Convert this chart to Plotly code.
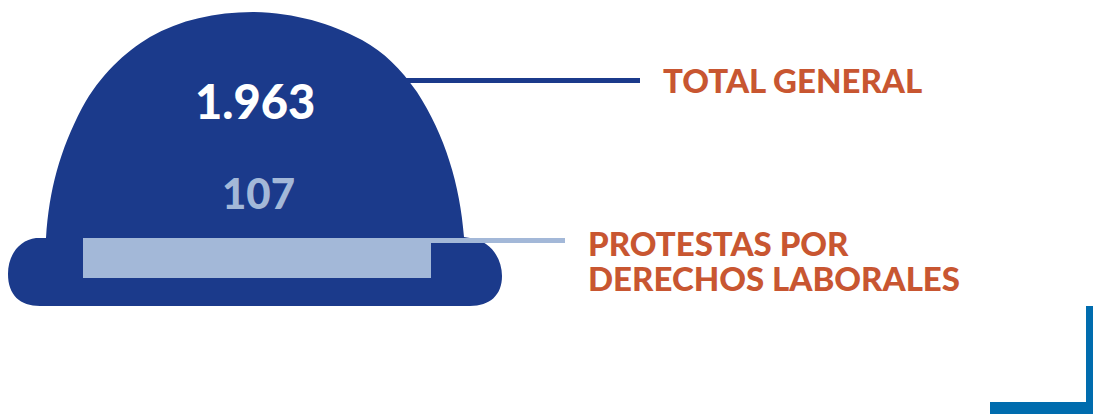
import plotly.graph_objects as go

# Data
total_value = 1963
subset_value = 107
total_text = "1.963"
subset_text = "107"
total_label = ["TOTAL GENERAL"]
subset_label = ["PROTESTAS POR", "DERECHOS LABORALES"]

BLUE = "#1B3A8B"
LIGHT = "#A3B8D8"
ORANGE = "#C85631"
CORNER = "#006CAE"
FONT = "Lato"
W, H = 1093, 414

helmet = ("M 46 238 C 49 190 60 150 82 108 C 100 75 125 52 150 37 "
          "C 180 20 215 12 253 12 C 295 13 330 23 362 40 "
          "C 385 53 400 68 417 92 C 445 135 460 185 464 237 "
          "L 470 238 C 490 240 502 258 502 276 C 502 295 490 306 470 306 "
          "L 40 306 C 20 306 8 295 8 274 C 8 254 20 240 36 238 Z")

shapes = [
    dict(type="path", path=helmet, fillcolor=BLUE, line_width=0, layer="below"),
    dict(type="rect", x0=405, x1=640, y0=78, y1=83, fillcolor=BLUE, line_width=0, layer="below"),
    dict(type="rect", x0=431, x1=565, y0=238, y1=243, fillcolor=LIGHT, line_width=0, layer="below"),
    dict(type="rect", x0=1086, x1=1093, y0=306, y1=414, fillcolor=CORNER, line_width=0, layer="below"),
    dict(type="rect", x0=990, x1=1093, y0=402, y1=414, fillcolor=CORNER, line_width=0, layer="below"),
]

def note(text, x, y, size, color, anchor="left"):
    return dict(text=text, x=x, y=y, xref="x", yref="y", showarrow=False,
                xanchor=anchor, yanchor="middle",
                font=dict(family=FONT, size=size, color=color, weight=900))

annotations = [
    note(total_text, 254.5, 101, 47, "white", "center"),
    note(subset_text, 258, 193, 42, LIGHT, "center"),
    note(total_label[0], 661, 80, 33, ORANGE),
    note(subset_label[0], 586, 243, 33, ORANGE),
    note(subset_label[1], 586, 278, 33, ORANGE),
]

fig = go.Figure()
fig.add_trace(go.Bar(x=[subset_value], y=[subset_label[0]], orientation="h",
                     marker=dict(color=LIGHT, line_width=0), width=1,
                     xaxis="x2", yaxis="y2", hoverinfo="skip", showlegend=False))
fig.update_layout(
    width=W, height=H, margin=dict(l=0, r=0, t=0, b=0, pad=0), autosize=False,
    paper_bgcolor="white", plot_bgcolor="rgba(0,0,0,0)", showlegend=False,
    bargap=0, shapes=shapes, annotations=annotations,
    xaxis=dict(range=[0, W], visible=False, fixedrange=True),
    yaxis=dict(range=[H, 0], visible=False, fixedrange=True),
    xaxis2=dict(domain=[83 / W, 431 / W], range=[0, subset_value], visible=False, anchor="y2", fixedrange=True),
    yaxis2=dict(domain=[(H - 278) / H, (H - 238) / H], visible=False, anchor="x2", fixedrange=True),
)
fig.write_html("out.html", config=dict(displayModeBar=False),
               post_script="document.body.style.margin='0';")
